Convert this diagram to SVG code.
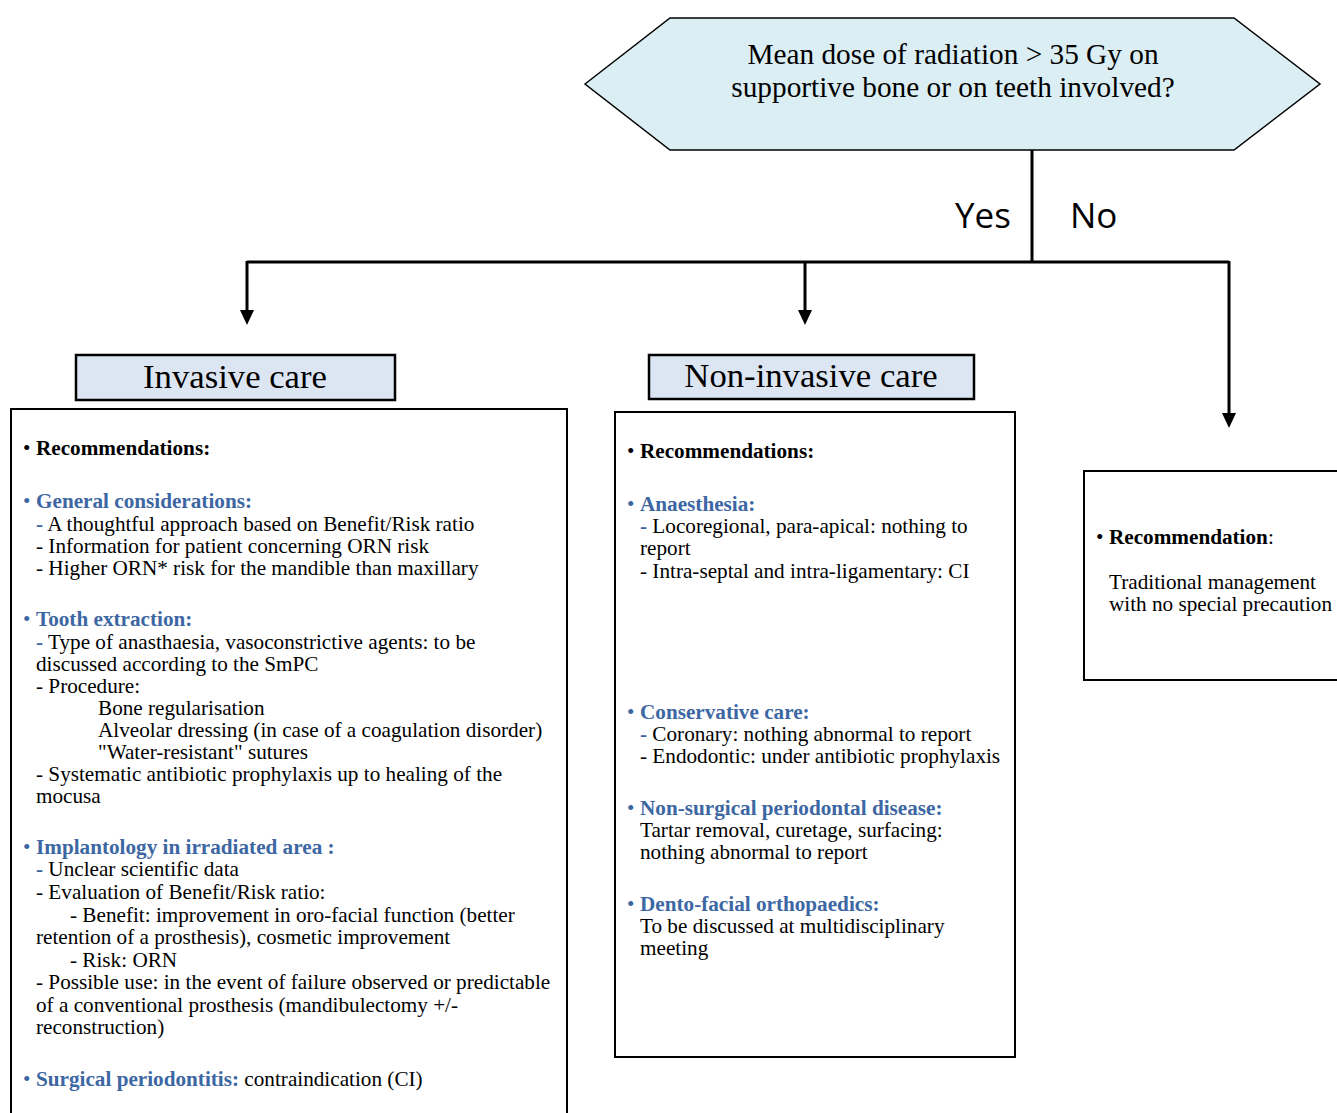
<svg xmlns="http://www.w3.org/2000/svg" width="1337" height="1113" viewBox="0 0 1337 1113">
<style>
.t{font-family:"Liberation Serif","Times New Roman",serif;font-size:21.2px;fill:#000}
.b{font-weight:bold}
.bl{fill:#3d67a3;font-weight:bold}
.blu{fill:#3d67a3}
.hd{font-family:"Liberation Serif","Times New Roman",serif;font-size:34.7px;fill:#000;text-anchor:middle}
.q{font-family:"Liberation Serif","Times New Roman",serif;font-size:29.3px;fill:#000;text-anchor:middle}
.yn{font-family:"Open Sans","DejaVu Sans",sans-serif;font-size:35px;fill:#000}
.box{fill:#fff;stroke:#000;stroke-width:2}
.hbox{fill:#dce6f2;stroke:#000;stroke-width:2.5}
.con{fill:none;stroke:#000;stroke-width:3}
</style>
<rect width="1337" height="1113" fill="#fff"/>

<g id="question">
<polygon points="585,84 670,18 1234,18 1320,84 1234,150 670,150" fill="#dbeef4" stroke="#000" stroke-width="1.5"/>
<text class="q" x="953" y="64">Mean dose of radiation &gt; 35 Gy on</text>
<text class="q" x="953" y="97">supportive bone or on teeth involved?</text>
</g>

<g id="connectors">
<path class="con" d="M1032,150 V262"/>
<path class="con" d="M247,262 H1229"/>
<path class="con" d="M247,261 V311"/>
<path class="con" d="M805,261 V311"/>
<path class="con" d="M1229,261 V414"/>
<path d="M240,310 L254,310 L247,325 Z" fill="#000"/>
<path d="M798,310 L812,310 L805,325 Z" fill="#000"/>
<path d="M1222,413 L1236,413 L1229,428 Z" fill="#000"/>
<text class="yn" x="955" y="228">Yes</text>
<text class="yn" x="1070" y="228">No</text>
</g>

<g id="invasive-header">
<rect class="hbox" x="76" y="355" width="319" height="45"/>
<text class="hd" x="235" y="388">Invasive care</text>
</g>

<g id="noninvasive-header">
<rect class="hbox" x="649" y="355" width="325" height="44"/>
<text class="hd" x="811" y="387">Non-invasive care</text>
</g>

<g id="invasive-box">
<rect class="box" x="11" y="409" width="556" height="720"/>
<text class="t"><tspan x="23" y="455">•</tspan><tspan x="36" class="b">Recommendations:</tspan></text>
<text class="t"><tspan x="23" y="508" class="blu">•</tspan><tspan x="36" class="bl">General considerations:</tspan></text>
<text class="t" x="36" y="531"><tspan class="bl">-</tspan> A thoughtful approach based on Benefit/Risk ratio</text>
<text class="t" x="36" y="553">- Information for patient concerning ORN risk</text>
<text class="t" x="36" y="575">- Higher ORN* risk for the mandible than maxillary</text>
<text class="t"><tspan x="23" y="626" class="blu">•</tspan><tspan x="36" class="bl">Tooth extraction:</tspan></text>
<text class="t" x="36" y="649"><tspan class="bl">-</tspan> Type of anasthaesia, vasoconstrictive agents: to be</text>
<text class="t" x="36" y="671">discussed according to the SmPC</text>
<text class="t" x="36" y="693">- Procedure:</text>
<text class="t" x="98" y="715">Bone regularisation</text>
<text class="t" x="98" y="737">Alveolar dressing (in case of a coagulation disorder)</text>
<text class="t" x="98" y="759">"Water-resistant" sutures</text>
<text class="t" x="36" y="781">- Systematic antibiotic prophylaxis up to healing of the</text>
<text class="t" x="36" y="803">mocusa</text>
<text class="t"><tspan x="23" y="854" class="blu">•</tspan><tspan x="36" class="bl">Implantology in irradiated area :</tspan></text>
<text class="t" x="36" y="876"><tspan class="bl">-</tspan> Unclear scientific data</text>
<text class="t" x="36" y="899">- Evaluation of Benefit/Risk ratio:</text>
<text class="t" x="70" y="922">- Benefit: improvement in oro-facial function (better</text>
<text class="t" x="36" y="944">retention of a prosthesis), cosmetic improvement</text>
<text class="t" x="70" y="967">- Risk: ORN</text>
<text class="t" x="36" y="989">- Possible use: in the event of failure observed or predictable</text>
<text class="t" x="36" y="1012">of a conventional prosthesis (mandibulectomy +/-</text>
<text class="t" x="36" y="1034">reconstruction)</text>
<text class="t"><tspan x="23" y="1086" class="blu">•</tspan><tspan x="36" class="bl">Surgical periodontitis:</tspan> contraindication (CI)</text>
</g>

<g id="noninvasive-box">
<rect class="box" x="615" y="412" width="400" height="645"/>
<text class="t"><tspan x="627" y="458">•</tspan><tspan x="640" class="b">Recommendations:</tspan></text>
<text class="t"><tspan x="627" y="511" class="blu">•</tspan><tspan x="640" class="bl">Anaesthesia:</tspan></text>
<text class="t" x="640" y="533"><tspan class="bl">-</tspan> Locoregional, para-apical: nothing to</text>
<text class="t" x="640" y="555">report</text>
<text class="t" x="640" y="578">- Intra-septal and intra-ligamentary: CI</text>
<text class="t"><tspan x="627" y="719" class="blu">•</tspan><tspan x="640" class="bl">Conservative care:</tspan></text>
<text class="t" x="640" y="741"><tspan class="bl">-</tspan> Coronary: nothing abnormal to report</text>
<text class="t" x="640" y="763">- Endodontic: under antibiotic prophylaxis</text>
<text class="t"><tspan x="627" y="815" class="blu">•</tspan><tspan x="640" class="bl">Non-surgical periodontal disease:</tspan></text>
<text class="t" x="640" y="837">Tartar removal, curetage, surfacing:</text>
<text class="t" x="640" y="859">nothing abnormal to report</text>
<text class="t"><tspan x="627" y="911" class="blu">•</tspan><tspan x="640" class="bl">Dento-facial orthopaedics:</tspan></text>
<text class="t" x="640" y="933">To be discussed at multidisciplinary</text>
<text class="t" x="640" y="955">meeting</text>
</g>

<g id="no-box">
<rect class="box" x="1084" y="471" width="270" height="209"/>
<text class="t"><tspan x="1096" y="544">•</tspan><tspan x="1109" class="b">Recommendation</tspan>:</text>
<text class="t" x="1109" y="589">Traditional management</text>
<text class="t" x="1109" y="611">with no special precaution</text>
</g>
</svg>
